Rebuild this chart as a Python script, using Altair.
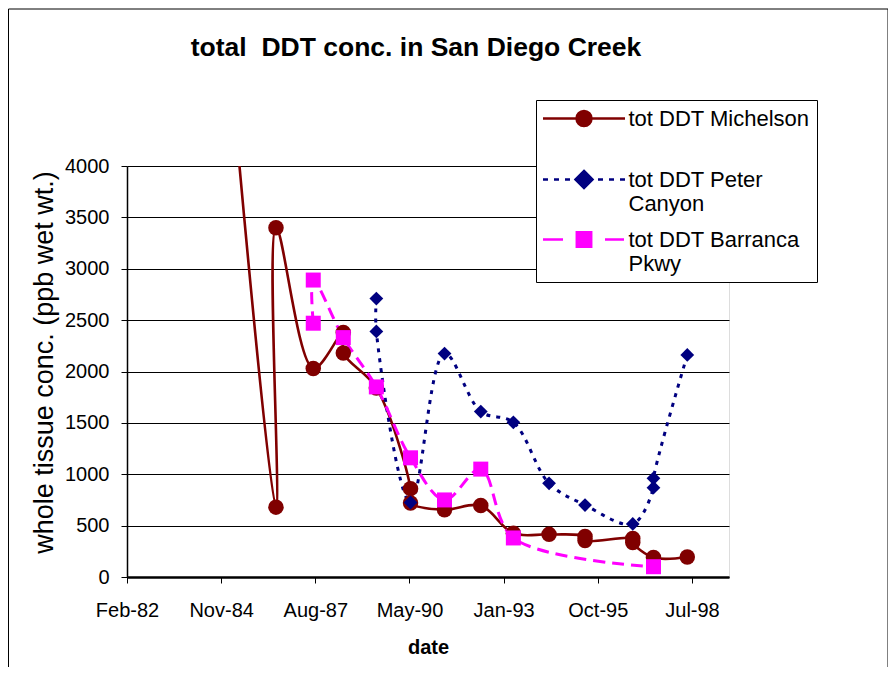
import altair as alt
import pandas as pd

# ---------------- data ----------------
series_names = ["tot DDT Michelson", "tot DDT Peter Canyon", "tot DDT Barranca Pkwy"]
series_colors = ["#800000", "#000080", "#FF00FF"]

mich_dates = ["1985-03-17", "1986-06-16", "1986-06-16", "1987-07-17", "1988-05-31", "1988-05-31",
              "1989-05-17", "1990-05-15", "1990-05-15", "1991-05-11", "1992-05-30", "1993-05-11",
              "1994-05-25", "1995-06-11", "1995-06-11", "1996-10-30", "1996-10-30", "1997-06-07",
              "1998-06-01"]
mich_values = [4700, 680, 3400, 2030, 2380, 2180,
               1840, 860, 720, 655, 695, 425,
               415, 395, 355, 375, 335, 190,
               195]

peter_dates = ["1989-05-17", "1989-05-17", "1990-05-15", "1991-05-11", "1992-05-30", "1993-05-11",
               "1994-05-25", "1995-06-11", "1996-10-30", "1997-06-07", "1997-06-07", "1998-06-01"]
peter_values = [2710, 2390, 725, 2175, 1610, 1505,
                912, 700, 516, 869, 960, 2161]

barr_dates = ["1987-07-17", "1987-07-17", "1988-05-31", "1989-05-17", "1990-05-15", "1991-05-11",
              "1992-05-30", "1993-05-11", "1997-06-07"]
barr_values = [2470, 2890, 2330, 1850, 1160, 750,
               1050, 380, 100]

tick_dates = ["1982-02-15", "1984-11-11", "1987-08-08", "1990-05-04",
              "1993-01-28", "1995-10-25", "1998-07-21"]
x_domain = ["1982-02-15", "1999-08-18"]
y_ticks = [0, 500, 1000, 1500, 2000, 2500, 3000, 3500, 4000]

# legend symbols: line + marker drawn as custom paths
legend_paths = [
    "M-4.1,0H4.1M0.75,0A0.75,0.75,0,1,1,-0.75,0A0.75,0.75,0,1,1,0.75,0Z",
    "M-4.1,0H-3.6M-3.0,0H-2.5M-1.9,0H-1.4M1.4,0H1.9M2.5,0H3.0M3.6,0H4.1"
    "M0,-0.85L0.85,0L0,0.85L-0.85,0Z",
    "M-4.1,0H-2.1M2.1,0H4.0M-0.72,-0.72H0.72V0.72H-0.72Z",
]

rows = []
for name, dates, vals in [(series_names[0], mich_dates, mich_values),
                          (series_names[1], peter_dates, peter_values),
                          (series_names[2], barr_dates, barr_values)]:
    for i, (d, v) in enumerate(zip(dates, vals)):
        rows.append({"series": name, "date": d, "value": v, "idx": i})
df = pd.DataFrame(rows)


def dt(s):
    y, m, d = (int(p) for p in s.split("-"))
    return alt.DateTime(year=y, month=m, date=d, utc=True)


FONT = "Liberation Sans"

x_enc = alt.X(
    "date:T",
    scale=alt.Scale(type="utc", domain=[dt(x_domain[0]), dt(x_domain[1])]),
    axis=alt.Axis(
        values=[dt(s) for s in tick_dates],
        labelExpr="utcFormat(datum.value, '%b-%y')",
        title="date", titleFont=FONT, titleFontSize=20, titleFontWeight="bold",
        titleColor="black", titleX=301, titleY=76, titleBaseline="alphabetic",
        labelFont=FONT, labelFontSize=20, labelColor="black", labelPadding=17,
        labelFlush=False, labelOverlap=False, labelBaseline="top",
        tickSize=6, tickColor="black", tickWidth=1,
        domainColor="black", domainWidth=2.5, grid=False,
    ),
)
y_enc = alt.Y(
    "value:Q",
    scale=alt.Scale(domain=[0, 4000], nice=False, zero=True),
    axis=alt.Axis(
        values=y_ticks, format="d",
        title="whole tissue conc. (ppb wet wt.)", titleFont=FONT, titleFontSize=27,
        titleFontWeight="normal", titleColor="black", titleX=-75, titleY=196,
        titleAngle=270, titleBaseline="alphabetic", titleAlign="center",
        labelFont=FONT, labelFontSize=20, labelColor="black", labelPadding=12,
        labelFlush=False, tickSize=6, tickColor="black", tickWidth=1,
        domainColor="black", domainWidth=1.5,
        grid=True, gridColor="black", gridWidth=1,
    ),
)

base = alt.Chart(df)

dash = {series_names[0]: None, series_names[1]: [4, 6], series_names[2]: [12, 7]}
shapes = ["circle", "diamond", "square"]
sizes = [240, 190, 225]

line_layers = []
point_layers = []
for name, col, shp, sz in zip(series_names, series_colors, shapes, sizes):
    line_kwargs = dict(color=col, strokeWidth=2.6, interpolate="catmull-rom", clip=True)
    if dash[name] is not None:
        line_kwargs["strokeDash"] = dash[name]
        line_kwargs["strokeWidth"] = 3
    line_layers.append(
        base.transform_filter(alt.datum.series == name)
        .mark_line(**line_kwargs)
        .encode(x=x_enc, y=y_enc, order=alt.Order("idx:Q"))
    )
    point_layers.append(
        base.transform_filter(alt.datum.series == name)
        .mark_point(shape=shp, filled=True, size=sz, color=col, opacity=1, clip=True)
        .encode(x=x_enc, y=y_enc)
    )

label_expr = (
    "datum.label == 'tot DDT Peter Canyon' ? ['tot DDT Peter', 'Canyon'] : "
    "datum.label == 'tot DDT Barranca Pkwy' ? ['tot DDT Barranca', 'Pkwy'] : "
    "[datum.label, '']"
)
legend_def = alt.Legend(
    title=None, orient="none", legendX=409, legendY=-66,
    fillColor="white", strokeColor="black", padding=7,
    symbolSize=400, symbolOffset=29.5, symbolStrokeWidth=2.5, symbolOpacity=1,
    labelOffset=33, rowPadding=12, labelFont=FONT, labelFontSize=22,
    labelColor="black", labelLimit=400, labelBaseline="middle", labelExpr=label_expr,
)
legend_layer = (
    base.transform_filter("false")
    .mark_point(filled=True, opacity=1)
    .encode(
        x=x_enc, y=y_enc,
        fill=alt.Fill("series:N", scale=alt.Scale(domain=series_names, range=series_colors),
                      legend=legend_def, sort=series_names),
        stroke=alt.Stroke("series:N", scale=alt.Scale(domain=series_names, range=series_colors),
                          legend=legend_def, sort=series_names),
        shape=alt.Shape("series:N", scale=alt.Scale(domain=series_names, range=legend_paths),
                        legend=legend_def, sort=series_names),
    )
)

frame = alt.Chart(alt.Data(values=[{"k": 0}])).mark_rect(
    fill="transparent", stroke="black", strokeWidth=1
).encode(
    x=alt.value(-118.5), x2=alt.value(761), y=alt.value(-157), y2=alt.value(520)
)

chart = alt.layer(
    frame, *line_layers, *point_layers, legend_layer
).properties(
    width=602, height=411,
    title=alt.TitleParams(
        text="total\u00a0 DDT conc. in San Diego Creek", font=FONT, fontSize=26.5,
        fontWeight="bold", color="black", anchor="middle", frame="group",
        baseline="alphabetic", offset=0, dy=74, dx=-12,
    ),
    autosize=alt.AutoSizeParams(type="none"),
    padding={"left": 119, "top": 158, "right": 159, "bottom": 90},
).configure_view(
    fill="#FFFFCC", stroke="#555555", strokeWidth=2
).configure(background="white")

chart.save("out.html", embed_options={"renderer": "svg", "actions": False})
